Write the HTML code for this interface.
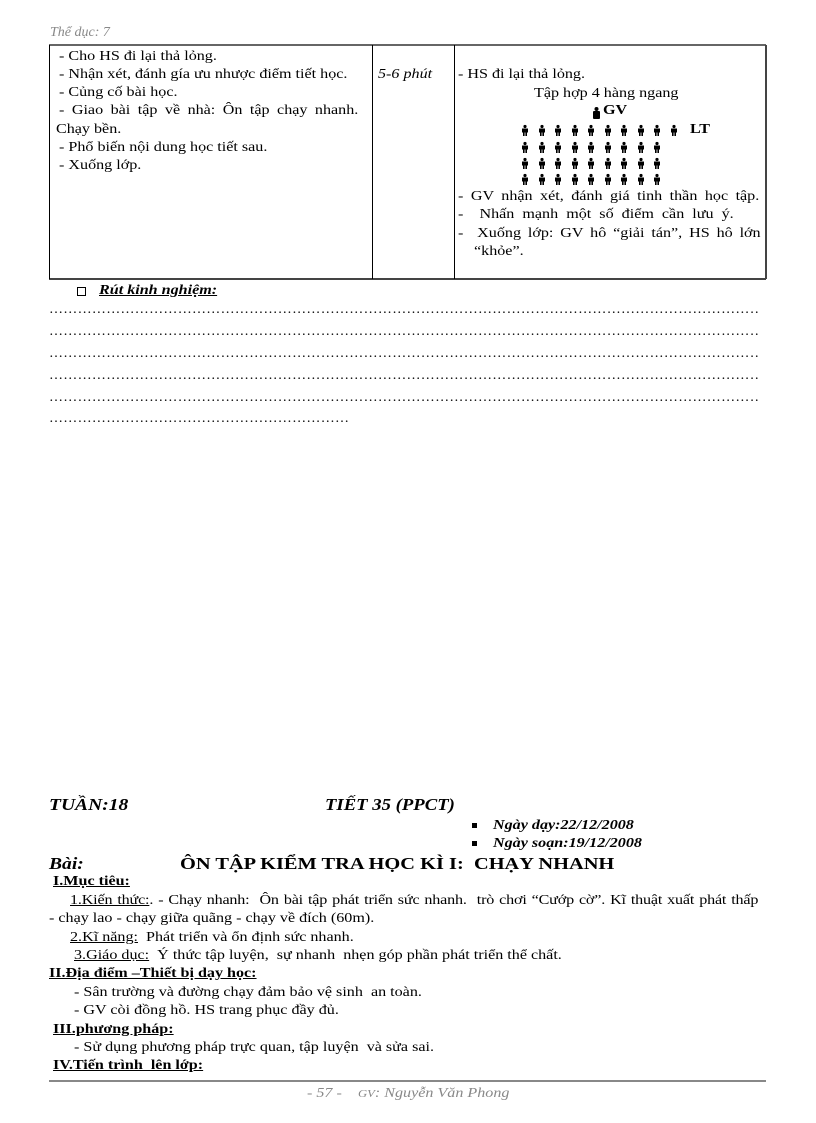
<!DOCTYPE html>
<html><head><meta charset="utf-8"><style>
body{margin:0;width:816px;height:1123px;position:relative;background:#fff;font-family:"Liberation Serif",serif;color:#000;overflow:hidden}
.l{position:absolute;white-space:nowrap;font-size:14px;line-height:16px;transform:scaleX(1.15);transform-origin:0 0}
.b{font-weight:bold}.i{font-style:italic}.u{text-decoration:underline}
.v{position:absolute;background:#000;width:1px}
.h{position:absolute;background:#000;height:1px}
.dots{position:absolute;left:49px;width:710px;overflow:hidden;white-space:nowrap;font-size:14px;line-height:16px;letter-spacing:0.3px}
.p{position:absolute;width:8px;height:11px}
</style></head><body>
<div class="l i" style="left:50px;top:25px;color:#888;font-size:14px;transform:none">Thể dục: 7</div>
<div class="h" style="left:49px;top:44px;width:717px;height:2px;background:#666"></div>
<div class="h" style="left:49px;top:278px;width:717px;height:2px;background:#444"></div>
<div class="v" style="left:49px;top:45px;height:234px"></div>
<div class="v" style="left:372px;top:45px;height:234px"></div>
<div class="v" style="left:454px;top:45px;height:234px"></div>
<div class="v" style="left:765px;top:45px;height:234px;width:2px;background:#444"></div>

<div class="l" style="left:59px;top:49px">- Cho HS đi lại thả lỏng.</div>
<div class="l" style="left:59px;top:67px">- Nhận xét, đánh gía ưu nhược điểm tiết học.</div>
<div class="l" style="left:59px;top:85px">- Củng cố bài học.</div>
<div class="l" style="left:59px;top:103px;word-spacing:3px">- Giao bài tập về nhà: Ôn tập chạy nhanh.</div>
<div class="l" style="left:56px;top:122px">Chạy bền.</div>
<div class="l" style="left:59px;top:140px">- Phổ biến nội dung học tiết sau.</div>
<div class="l" style="left:59px;top:158px">- Xuống lớp.</div>

<div class="l i" style="left:378px;top:67px">5-6 phút</div>

<div class="l" style="left:458px;top:67px">- HS đi lại thả lỏng.</div>
<div class="l" style="left:534px;top:86px">Tập hợp 4 hàng ngang</div>
<div class="p" style="left:592px;top:106px;width:9px;height:12px"><svg width="9" height="12"><circle cx="4.5" cy="2" r="2"/><rect x="1" y="4" width="7" height="8" rx="1"/></svg></div>
<div class="l b" style="left:603px;top:103px">GV</div>
<div class="l b" style="left:690px;top:122px">LT</div>
<svg style="position:absolute;left:0;top:0" width="816" height="200">
<defs><g id="f"><circle cx="4" cy="1.5" r="1.6"/><rect x="1" y="3.5" width="6" height="4"/><rect x="2" y="7" width="1.6" height="4"/><rect x="4.4" y="7" width="1.6" height="4"/></g></defs>
<g id="r1">
<use href="#f" x="521" y="125"/><use href="#f" x="538" y="125"/><use href="#f" x="554" y="125"/><use href="#f" x="571" y="125"/><use href="#f" x="587" y="125"/><use href="#f" x="604" y="125"/><use href="#f" x="620" y="125"/><use href="#f" x="637" y="125"/><use href="#f" x="653" y="125"/><use href="#f" x="670" y="125"/>
</g>
<g id="r2">
<use href="#f" x="521" y="142"/><use href="#f" x="538" y="142"/><use href="#f" x="554" y="142"/><use href="#f" x="571" y="142"/><use href="#f" x="587" y="142"/><use href="#f" x="604" y="142"/><use href="#f" x="620" y="142"/><use href="#f" x="637" y="142"/><use href="#f" x="653" y="142"/>
</g>
<use href="#r2" y="16"/><use href="#r2" y="32"/>
</svg>
<div class="l" style="left:458px;top:189px;word-spacing:3px">- GV nhận xét, đánh giá tinh thần học tập.</div>
<div class="l" style="left:458px;top:207px;word-spacing:3.5px">-&nbsp; Nhấn mạnh một số điểm cần lưu ý.</div>
<div class="l" style="left:458px;top:226px;word-spacing:2.5px">-&nbsp; Xuống lớp: GV hô “giải tán”, HS hô lớn</div>
<div class="l" style="left:474px;top:244px">“khỏe”.</div>

<div style="position:absolute;left:77px;top:287px;width:7px;height:7px;border:1px solid #000"></div>
<div class="l b i u" style="left:99px;top:283px">Rút kinh nghiệm:</div>
<div class="dots" style="top:302px">……………………………………………………………………………………………………………………………………</div>
<div class="dots" style="top:324px">……………………………………………………………………………………………………………………………………</div>
<div class="dots" style="top:346px">……………………………………………………………………………………………………………………………………</div>
<div class="dots" style="top:368px">……………………………………………………………………………………………………………………………………</div>
<div class="dots" style="top:390px">……………………………………………………………………………………………………………………………………</div>
<div class="dots" style="top:411px;width:300px">……………………………………………………………..</div>

<div class="l b i" style="left:49px;top:795px;font-size:17px;line-height:20px">TUẦN:18</div>
<div class="l b i" style="left:325px;top:795px;font-size:17px;line-height:20px;transform:scaleX(1.1)">TIẾT 35 (PPCT)</div>
<div style="position:absolute;left:472px;top:823px;width:5px;height:5px;background:#000"></div>
<div class="l b i" style="left:493px;top:818px">Ngày dạy:22/12/2008</div>
<div style="position:absolute;left:472px;top:841px;width:5px;height:5px;background:#000"></div>
<div class="l b i" style="left:493px;top:836px">Ngày soạn:19/12/2008</div>
<div class="l b i" style="left:49px;top:854px;font-size:17px;line-height:20px">Bài:</div>
<div class="l b" style="left:180px;top:854px;font-size:17px;line-height:20px;transform:scaleX(1.2)">ÔN TẬP KIỂM TRA HỌC KÌ I:&nbsp; CHẠY NHANH</div>
<div class="l b u" style="left:53px;top:874px">I.Mục tiêu:</div>
<div class="l" style="left:70px;top:893px;word-spacing:1px;letter-spacing:-0.15px"><span class="u">1.Kiến thức:</span>. - Chạy nhanh:&nbsp; Ôn bài tập phát triển sức nhanh.&nbsp; trò chơi “Cướp cờ”. Kĩ thuật xuất phát thấp</div>
<div class="l" style="left:49px;top:911px">- chạy lao - chạy giữa quãng - chạy về đích (60m).</div>
<div class="l" style="left:70px;top:930px"><span class="u">2.Kĩ năng:</span>&nbsp; Phát triển và ổn định sức nhanh.</div>
<div class="l" style="left:74px;top:948px"><span class="u">3.Giáo dục:</span>&nbsp; Ý thức tập luyện,&nbsp; sự nhanh&nbsp; nhẹn góp phần phát triển thể chất.</div>
<div class="l b u" style="left:49px;top:966px">II.Địa điểm –Thiết bị dạy học:</div>
<div class="l" style="left:74px;top:985px">- Sân trường và đường chạy đảm bảo vệ sinh&nbsp; an toàn.</div>
<div class="l" style="left:74px;top:1003px">- GV còi đồng hồ. HS trang phục đầy đủ.</div>
<div class="l b u" style="left:53px;top:1022px">III.phương pháp:</div>
<div class="l" style="left:74px;top:1040px">- Sử dụng phương pháp trực quan, tập luyện&nbsp; và sửa sai.</div>
<div class="l b u" style="left:53px;top:1058px">IV.Tiến trình&nbsp; lên lớp:</div>

<div class="h" style="left:49px;top:1080px;width:717px;height:2px;background:#888"></div>
<div class="l i" style="left:307px;top:1086px;color:#888">- 57 -&nbsp;&nbsp;&nbsp; <span style="font-size:11px">GV</span>: Nguyễn Văn Phong</div>
</body></html>
